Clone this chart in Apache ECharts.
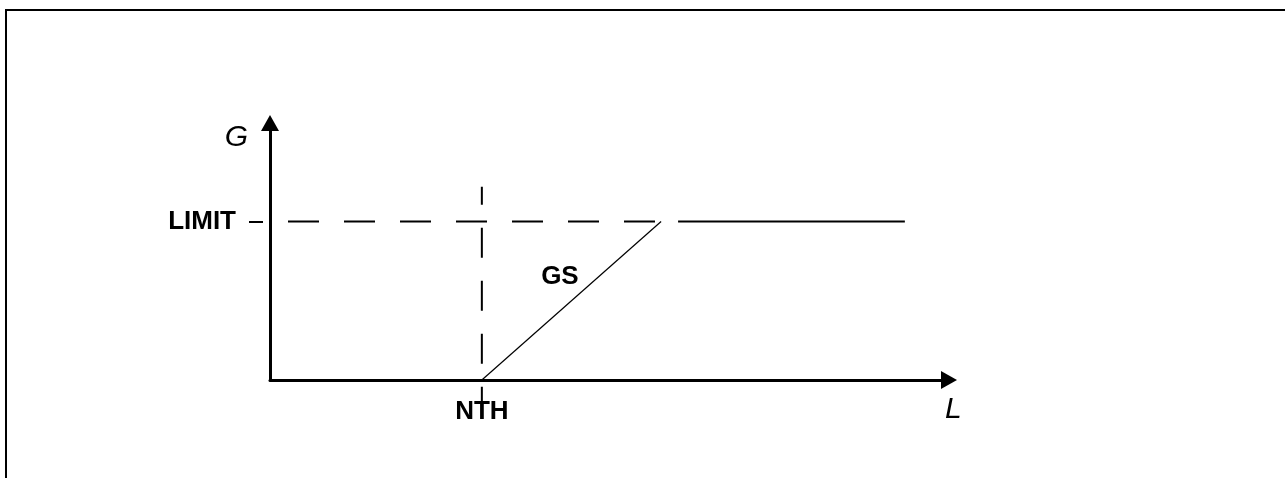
<!DOCTYPE html>
<html>
<head>
<meta charset="utf-8">
<script src="https://cdn.jsdelivr.net/npm/echarts@6/dist/echarts.min.js"></script>
<style>
  html, body { margin: 0; padding: 0; background: #fff; }
  #chart { width: 1285px; height: 478px; }
</style>
</head>
<body>
<div id="chart"></div>
<script>
// values in chart units: L runs 0..100, G runs 0..100
const NTH = 31.2;          // threshold on L
const LIMIT = 61.7;        // limit on G
const GS_END = 57.6;       // L where GS reaches LIMIT

const thresholdLine = [[NTH, 75.2], [NTH, -8.6]];
const limitDashed = [[0, LIMIT], [GS_END, LIMIT]];
const gsRamp = [[NTH, 0], [GS_END, LIMIT]];
const limitSolid = [[60.1, LIMIT], [93.5, LIMIT]];
const gsLabelAt = [[42.7, 40.2]];

const xTickLabels = { [NTH]: 'NTH' };
const yTickLabels = { [LIMIT]: 'LIMIT' };

const chart = echarts.init(document.getElementById('chart'));

const boldLabel = {
  color: '#000',
  fontFamily: 'Liberation Sans, Arial, sans-serif',
  fontWeight: 'bold',
  fontSize: 26
};
const italicName = {
  color: '#000',
  fontFamily: 'Liberation Sans, Arial, sans-serif',
  fontStyle: 'italic',
  fontSize: 30
};

const option = {
  animation: false,
  backgroundColor: '#fff',
  grid: { left: 270, right: 336, top: 123, bottom: 98, containLabel: false, outerBoundsMode: 'none' },
  xAxis: {
    type: 'value',
    min: 0,
    max: 100,
    name: 'L',
    nameLocation: 'end',
    nameGap: -4,
    nameTextStyle: Object.assign({}, italicName, { align: 'left', verticalAlign: 'top', padding: [15, 0, 0, 0] }),
    axisLine: {
      show: true,
      symbol: ['none', 'triangle'],
      symbolSize: [18, 16],
      lineStyle: { color: '#000', width: 3 }
    },
    axisTick: { show: false },
    splitLine: { show: false },
    axisLabel: Object.assign({}, boldLabel, {
      customValues: [NTH],
      margin: 19,
      formatter: v => xTickLabels[v] || ''
    })
  },
  yAxis: {
    type: 'value',
    min: 0,
    max: 100,
    name: 'G',
    nameLocation: 'end',
    nameGap: -15,
    nameTextStyle: Object.assign({}, italicName, { align: 'right', verticalAlign: 'middle', padding: [0, 22, 0, 0] }),
    axisLine: {
      show: true,
      symbol: ['none', 'triangle'],
      symbolSize: [18, 16],
      lineStyle: { color: '#000', width: 3 }
    },
    // the short dash left of the axis at LIMIT
    axisTick: {
      show: true,
      customValues: [LIMIT],
      length: 21,
      lineStyle: { color: '#000', width: 2, type: [14, 7], dashOffset: 14 }
    },
    splitLine: { show: false },
    axisLabel: Object.assign({}, boldLabel, {
      customValues: [LIMIT],
      margin: 34,
      formatter: v => yTickLabels[v] || ''
    })
  },
  graphic: [
    {
      type: 'rect',
      shape: { x: 6, y: 10, width: 1400, height: 600 },
      style: { fill: 'none', stroke: '#000', lineWidth: 2 },
      silent: true
    }
  ],
  series: [
    {
      name: 'threshold',
      type: 'line',
      data: thresholdLine,
      clip: false,
      symbol: 'none',
      lineStyle: { color: '#000', width: 2, type: [30, 23], dashOffset: 12 }
    },
    {
      name: 'limit dashed',
      type: 'line',
      data: limitDashed,
      clip: false,
      symbol: 'none',
      lineStyle: { color: '#000', width: 2, type: [31, 25], dashOffset: 38 }
    },
    {
      name: 'GS',
      type: 'line',
      data: gsRamp,
      symbol: 'none',
      lineStyle: { color: '#000', width: 1.2 }
    },
    {
      name: 'limit',
      type: 'line',
      data: limitSolid,
      symbol: 'none',
      lineStyle: { color: '#000', width: 2 }
    },
    {
      name: 'GS label',
      type: 'scatter',
      data: gsLabelAt,
      symbolSize: 0,
      itemStyle: { opacity: 1 },
      label: Object.assign({}, boldLabel, {
        show: true,
        opacity: 1,
        position: 'inside',
        formatter: 'GS'
      })
    }
  ]
};

chart.setOption(option);
</script>
</body>
</html>
